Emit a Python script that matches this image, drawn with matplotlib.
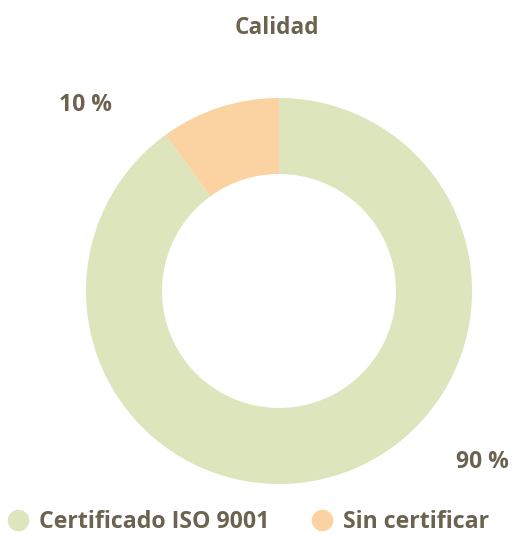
import matplotlib
matplotlib.use("Agg")
import matplotlib.pyplot as plt
from matplotlib.lines import Line2D

categories = ["Certificado ISO 9001", "Sin certificar"]
values = [90, 10]
labels = ["90 %", "10 %"]
colors = ["#DCE5BC", "#FBD3A2"]
title = "Calidad"
txt = "#6B6350"

plt.rcParams['font.family'] = ['Open Sans', 'DejaVu Sans']

W, H = 513, 534
fig = plt.figure(figsize=(W/100, H/100), dpi=100)
cx, cy, R = 279, 534-291, 193
ax = fig.add_axes([(cx-R)/W, (cy-R)/H, 2*R/W, 2*R/H])
wedges, _ = ax.pie(values, colors=colors, startangle=90, counterclock=False,
                   radius=1, wedgeprops=dict(width=1-117/193, linewidth=0))
ax.set_xlim(-1, 1); ax.set_ylim(-1, 1); ax.set_aspect('equal')
ax.axis('off')

label_pos = [(1.052, -0.886), (-1.005, 0.964)]
for lab, (x, y) in zip(labels, label_pos):
    ax.text(x, y, lab, ha='center', va='center', fontsize=16.5, fontweight='bold',
            color=txt, clip_on=False)

fig.text(277/W, 1-28/H, title, ha='center', va='center', fontsize=16.3,
         fontweight='bold', color=txt)

handles = [Line2D([], [], marker='o', linestyle='none', markersize=14.5,
                  markerfacecolor=c, markeredgecolor=c) for c in colors]
leg = fig.legend(handles, categories, loc='center left', bbox_to_anchor=(-5/W, 1-522/H),
                 ncol=2, frameon=False, fontsize=16.7, handletextpad=0.4,
                 columnspacing=1.75, handlelength=1.0, borderpad=0)
for t in leg.get_texts():
    t.set_color(txt); t.set_fontweight('bold')

fig.savefig("out.png", dpi=100)
